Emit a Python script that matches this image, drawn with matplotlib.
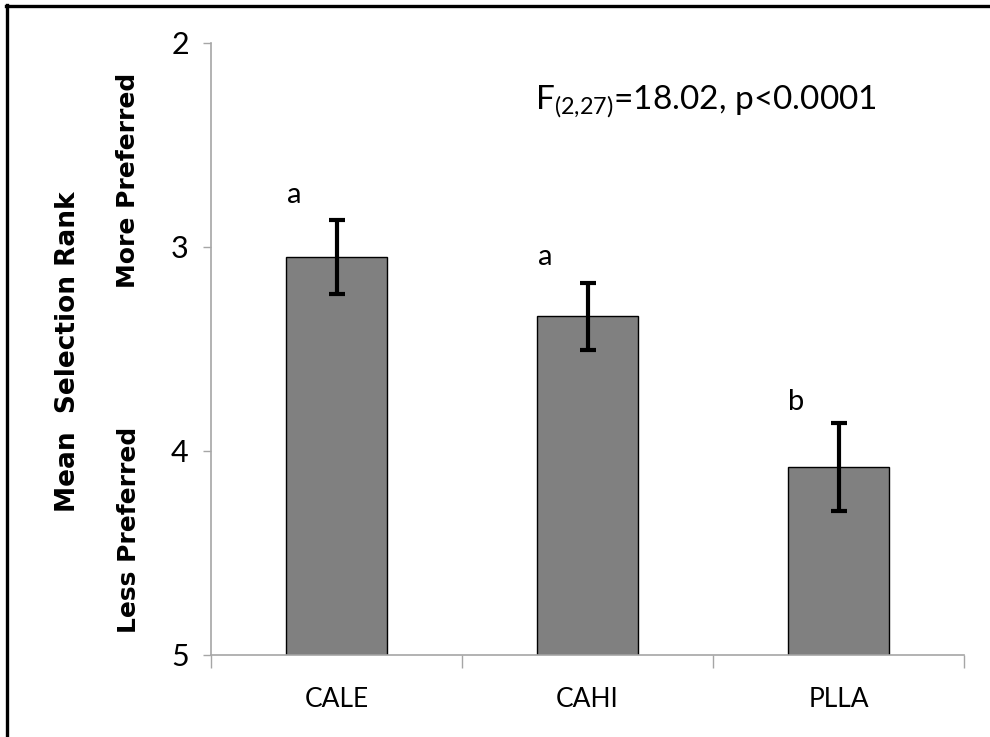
import matplotlib
matplotlib.use("Agg")
import matplotlib.pyplot as plt
from matplotlib.lines import Line2D
import numpy as np

# ── Data ─────────────────────────────────────────────────────────────────────
SPECIES   = ["CALE", "CAHI", "PLLA"]
MEAN_RANK = [3.05, 3.34, 4.08]
ERR       = [0.18, 0.165, 0.215]
GROUPS    = ["a", "a", "b"]
GROUP_Y   = [2.745, 3.05, 3.76]
Y_TICKS   = [2, 3, 4, 5]
STAT_TEXT = r"F$_{\mathregular{(2{,}27)}}$=18.02, p<0.0001"

W, H = 990, 737
AXIS_GREY = "#a6a6a6"
BODY_FONT = "Lato"


def fx(px):
    return px / W


def fy(py):
    return 1 - py / H


fig = plt.figure(figsize=(W / 100, H / 100), dpi=100)
ax = fig.add_axes([fx(211), fy(655), fx(964) - fx(211), fy(43) - fy(655)])

x = np.arange(len(SPECIES))
heights = np.array(MEAN_RANK) - 5
ax.bar(x, heights, bottom=5, width=0.40, color="#808080",
       edgecolor="black", linewidth=1.0, zorder=2)
ax.errorbar(x, MEAN_RANK, yerr=ERR, fmt="none", ecolor="black",
            elinewidth=3, capsize=6, capthick=3, zorder=3)

for xi, lab, gy in zip(x, GROUPS, GROUP_Y):
    ax.text(xi - 0.17, gy, lab, ha="center", va="center",
            fontsize=21, family=BODY_FONT)

ax.set_xlim(-0.5, len(SPECIES) - 0.5)
ax.set_ylim(5, 2)

# y axis
ax.set_yticks(Y_TICKS)
ax.set_yticklabels([str(t) for t in Y_TICKS], fontsize=22, family=BODY_FONT)
ax.tick_params(axis="y", length=6, width=1, color=AXIS_GREY, pad=10)

# x axis: ticks at boundaries, labels at centres
ax.set_xticks(np.arange(-0.5, len(SPECIES)), labels=[""] * (len(SPECIES) + 1))
ax.tick_params(axis="x", which="major", length=9, width=1, color=AXIS_GREY)
ax.set_xticks(x, labels=SPECIES, minor=True)
ax.tick_params(axis="x", which="minor", length=0, pad=23, labelsize=19)
for t in ax.get_xticklabels(minor=True):
    t.set_family(BODY_FONT)

for side in ["top", "right"]:
    ax.spines[side].set_visible(False)
for side in ["left", "bottom"]:
    ax.spines[side].set_color(AXIS_GREY)
    ax.spines[side].set_linewidth(1.2)

# statistics annotation
fig.text(fx(535), fy(110), STAT_TEXT, ha="left", va="baseline",
         fontsize=24, family=BODY_FONT)

# axis titles
fig.text(fx(68), fy(352), "Mean  Selection Rank", rotation=90,
         ha="center", va="center", fontsize=19, fontweight="bold",
         family="DejaVu Sans")
fig.text(fx(128), fy(180), "More Preferred", rotation=90,
         ha="center", va="center", fontsize=18, fontweight="bold",
         family="DejaVu Sans")
fig.text(fx(129), fy(530), "Less Preferred", rotation=90,
         ha="center", va="center", fontsize=18, fontweight="bold",
         family="DejaVu Sans")

# outer frame (top and left edges visible)
fig.add_artist(Line2D([fx(6), 1.0], [fy(5.5), fy(5.5)], color="black",
                      linewidth=2.4, transform=fig.transFigure))
fig.add_artist(Line2D([fx(6.5), fx(6.5)], [0.0, fy(5)], color="black",
                      linewidth=2.4, transform=fig.transFigure))

fig.savefig("out.png", dpi=100)
